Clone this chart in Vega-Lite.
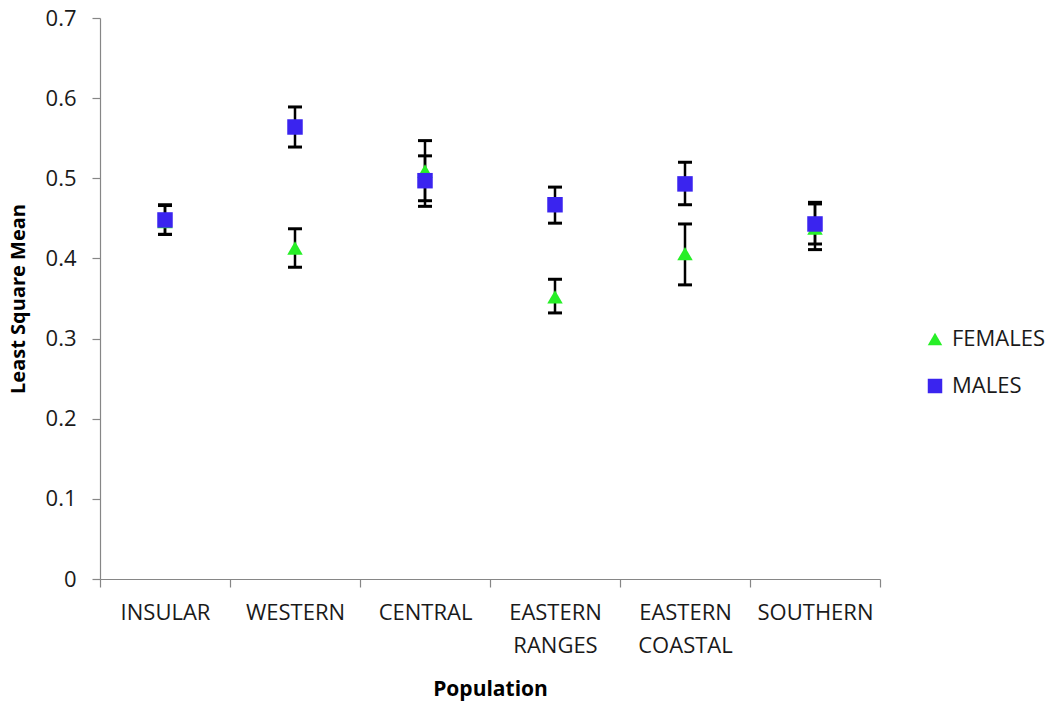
{
  "$schema": "https://vega.github.io/schema/vega-lite/v6.json",
  "autosize": "none",
  "width": 780,
  "height": 561,
  "padding": {"left": 100, "top": 18, "right": 171, "bottom": 123},
  "background": "white",
  "config": {
    "view": {"stroke": null},
    "font": "Open Sans",
    "axis": {"labelFont": "Open Sans", "titleFont": "Open Sans", "labelColor": "#1a1a1a", "titleColor": "#000000", "domainColor": "#868686", "tickColor": "#868686", "domainWidth": 1.2, "tickWidth": 1.2, "grid": false},
    "legend": {"labelFont": "Open Sans"}
  },
  "data": {
    "values": [
      {"population": "INSULAR", "sex": "FEMALES", "mean": 0.446, "lower": 0.430, "upper": 0.466},
      {"population": "WESTERN", "sex": "FEMALES", "mean": 0.413, "lower": 0.389, "upper": 0.437},
      {"population": "CENTRAL", "sex": "FEMALES", "mean": 0.509, "lower": 0.472, "upper": 0.547},
      {"population": "EASTERN RANGES", "sex": "FEMALES", "mean": 0.352, "lower": 0.332, "upper": 0.374},
      {"population": "EASTERN COASTAL", "sex": "FEMALES", "mean": 0.406, "lower": 0.367, "upper": 0.443},
      {"population": "SOUTHERN", "sex": "FEMALES", "mean": 0.438, "lower": 0.411, "upper": 0.468},
      {"population": "INSULAR", "sex": "MALES", "mean": 0.448, "lower": 0.430, "upper": 0.467},
      {"population": "WESTERN", "sex": "MALES", "mean": 0.564, "lower": 0.539, "upper": 0.589},
      {"population": "CENTRAL", "sex": "MALES", "mean": 0.497, "lower": 0.465, "upper": 0.528},
      {"population": "EASTERN RANGES", "sex": "MALES", "mean": 0.467, "lower": 0.444, "upper": 0.489},
      {"population": "EASTERN COASTAL", "sex": "MALES", "mean": 0.493, "lower": 0.467, "upper": 0.520},
      {"population": "SOUTHERN", "sex": "MALES", "mean": 0.443, "lower": 0.418, "upper": 0.470}
    ]
  },
  "encoding": {
    "x": {
      "field": "population",
      "type": "nominal",
      "sort": ["INSULAR", "WESTERN", "CENTRAL", "EASTERN RANGES", "EASTERN COASTAL", "SOUTHERN"],
      "scale": {"type": "band", "paddingInner": 0, "paddingOuter": 0},
      "axis": {
        "title": "Population",
        "titleFontSize": 21,
        "titleFontWeight": "bold",
        "titlePadding": 22,
        "labelFontSize": 22,
        "labelAngle": 0,
        "labelPadding": 15,
        "labelLineHeight": 33,
        "labelExpr": "split(datum.label, ' ')",
        "tickBand": "extent",
        "tickSize": 8
      }
    }
  },
  "layer": [
    {
      "mark": {"type": "rule", "color": "#000000", "strokeWidth": 2.5},
      "encoding": {
        "y": {"field": "lower", "type": "quantitative", "scale": {"domain": [0, 0.7], "nice": false},
          "axis": {"title": "Least Square Mean", "titleFontSize": 20, "titleFontWeight": "bold", "titlePadding": 17, "labelFontSize": 22, "labelPadding": 16, "tickSize": 8, "values": [0, 0.1, 0.2, 0.3, 0.4, 0.5, 0.6, 0.7], "labelExpr": "datum.value == 0 ? '0' : format(datum.value, '.1f')"}},
        "y2": {"field": "upper"}
      }
    },
    {
      "mark": {"type": "tick", "color": "#000000", "size": 14, "thickness": 3, "opacity": 1},
      "encoding": {"y": {"field": "upper", "type": "quantitative"}}
    },
    {
      "mark": {"type": "tick", "color": "#000000", "size": 14, "thickness": 3, "opacity": 1},
      "encoding": {"y": {"field": "lower", "type": "quantitative"}}
    },
    {
      "mark": {"type": "point", "filled": true, "opacity": 1, "size": 240, "strokeWidth": 0},
      "encoding": {
        "y": {"field": "mean", "type": "quantitative"},
        "color": {"field": "sex", "type": "nominal", "scale": {"domain": ["FEMALES", "MALES"], "range": ["#27ef27", "#3a24ef"]},
          "legend": {"title": null, "orient": "none", "legendX": 824, "legendY": 310, "labelFontSize": 22, "labelColor": "#1a1a1a", "symbolSize": 210, "rowPadding": 25, "labelOffset": 6, "symbolStrokeWidth": 0, "symbolOpacity": 1}},
        "shape": {"field": "sex", "type": "nominal", "scale": {"domain": ["FEMALES", "MALES"], "range": ["triangle-up", "square"]}},
        "order": {"field": "sex", "type": "nominal", "sort": "ascending"}
      }
    }
  ]
}
